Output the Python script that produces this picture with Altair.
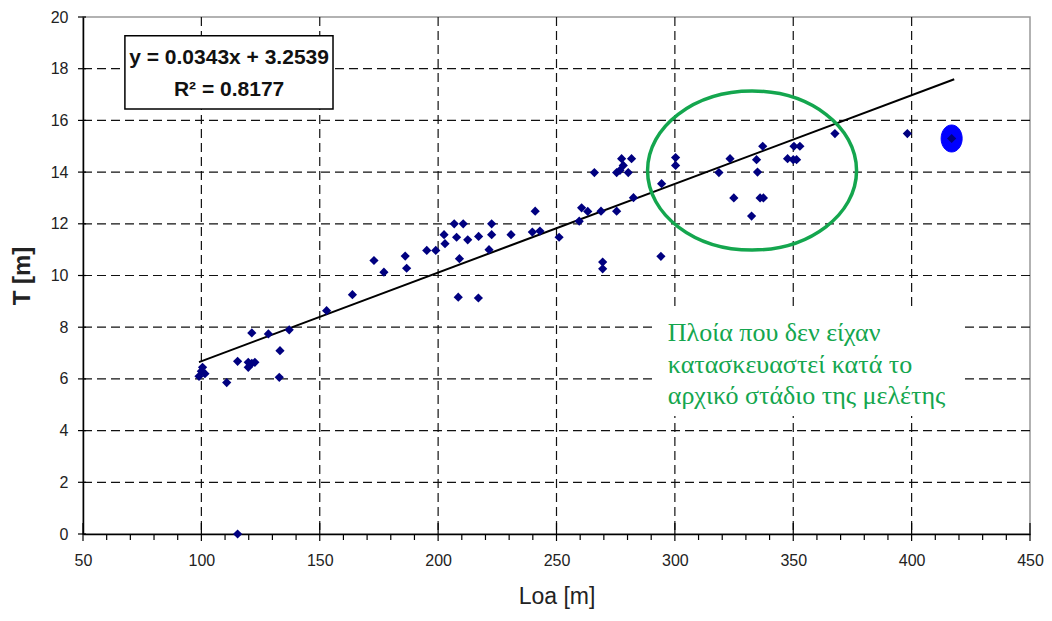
import altair as alt
import pandas as pd

# ---- data ----
loa = [99.0, 100.0, 100.5, 101.5, 110.7, 115.3, 115.3, 119.8, 121.3, 122.6, 119.8,
       121.3, 128.3, 137.1, 133.2, 132.9, 152.9, 163.8, 172.9, 177.1, 186.1, 186.7,
       195.2, 199.0, 202.9, 202.5, 206.8, 210.6, 207.8, 209.0, 208.5, 212.5, 217.1,
       217.0, 221.5, 222.6, 222.6, 230.8, 241.0, 239.8, 243.0, 251.1, 259.6, 260.6,
       263.2, 268.8, 269.5, 269.5, 266.0, 275.4, 276.8, 278.2, 277.5, 281.7, 280.3,
       275.4, 282.5, 294.4, 294.1, 300.3, 300.3, 318.6, 323.3, 324.9, 332.4, 334.5,
       334.9, 337.1, 336.0, 337.4, 347.6, 350.0, 351.4, 350.3, 352.8, 367.6, 398.2,
       416.9]
draft = [6.1, 6.3, 6.45, 6.2, 5.86, 0.0, 6.68, 6.64, 6.6, 6.64, 6.45,
         7.78, 7.74, 7.9, 7.09, 6.06, 8.64, 9.26, 10.58, 10.13, 10.75, 10.28,
         10.97, 10.97, 11.23, 11.58, 12.0, 12.0, 11.48, 10.65, 9.16, 11.38, 11.51,
         9.13, 11.0, 12.0, 11.58, 11.58, 12.49, 11.68, 11.72, 11.48, 12.1, 12.62,
         12.48, 12.49, 10.52, 10.26, 13.98, 13.98, 14.07, 14.26, 14.52, 14.52, 13.98,
         12.49, 13.01, 13.55, 10.74, 14.56, 14.26, 13.98, 14.52, 13.0, 12.3, 14.48,
         14.0, 15.0, 13.0, 13.0, 14.52, 14.48, 14.48, 15.0, 15.0, 15.49, 15.49,
         15.3]

highlight_loa = [416.9]
highlight_draft = [15.3]

fit_slope = 0.0343
fit_intercept = 3.2539
fit_loa = [99.0, 418.0]

x_ticks = [50, 100, 150, 200, 250, 300, 350, 400, 450]
y_ticks = [0, 2, 4, 6, 8, 10, 12, 14, 16, 18, 20]
grid_x = [100, 150, 200, 250, 300, 350, 400]
grid_y = [2, 4, 6, 8, 10, 12, 14, 16, 18]
minor_x = [60, 70, 80, 90, 110, 120, 130, 140, 160, 170, 180, 190, 210, 220, 230, 240,
           260, 270, 280, 290, 310, 320, 330, 340, 360, 370, 380, 390, 410, 420, 430, 440]

eq_lines = ["y = 0.0343x + 3.2539", "R² = 0.8177"]
eq_x = [111.7, 111.7]
eq_y = [18.41, 17.18]
box_x = [67.7]
box_x2 = [155.6]
box_y = [16.44]
box_y2 = [19.27]

zone_x = [332.6]
zone_y = [14.06]

note_lines = ["Πλοία που δεν είχαν", "κατασκευαστεί κατά το", "αρχικό στάδιο της μελέτης"]
note_x = [297.0, 297.0, 297.0]
note_y = [7.78, 6.54, 5.34]
note_box_x = [291.6]
note_box_x2 = [422.5]
note_box_y = [4.56]
note_box_y2 = [8.82]

# ---- layout ----
W, H = 947, 517
GREEN = "#14A64E"
NAVY = "#000080"
FONT = "Liberation Sans"


def ellipse_path(rx, ry):
    k = 0.5523
    return (f"M {rx} 0 C {rx} {k*ry} {k*rx} {ry} 0 {ry} "
            f"C {-k*rx} {ry} {-rx} {k*ry} {-rx} 0 "
            f"C {-rx} {-k*ry} {-k*rx} {-ry} 0 {-ry} "
            f"C {k*rx} {-ry} {rx} {-k*ry} {rx} 0 Z")


xs = alt.Scale(domain=[50, 450], nice=False, zero=False)
ys = alt.Scale(domain=[0, 20], nice=False, zero=False)

x_axis = alt.Axis(values=x_ticks, title="Loa [m]", grid=False, ticks=False, tickSize=0,
                  labelPadding=18, labelFontSize=16, labelFont=FONT, labelColor="#222",
                  domainColor="#000", domainWidth=1.5,
                  titleFont=FONT, titleFontSize=23, titleFontWeight="normal", titleColor="#222",
                  titleX=W / 2, titleY=62, titleAlign="center", titleBaseline="middle",
                  labelFlush=False)
y_axis = alt.Axis(values=y_ticks, title="T [m]", grid=False, ticks=False, tickSize=0,
                  labelPadding=15, labelFontSize=16, labelFont=FONT, labelColor="#222",
                  domainColor="#000", domainWidth=1.5,
                  titleFont=FONT, titleFontSize=24, titleFontWeight="bold", titleColor="#222",
                  titleX=-61, titleY=H / 2, titleAngle=270, titleAlign="center",
                  titleBaseline="middle", labelFlush=False)

gx_df = pd.DataFrame({"x": grid_x})
gy_df = pd.DataFrame({"y": grid_y})

vgrid = alt.Chart(gx_df).mark_rule(color="#111", strokeDash=[9, 5], strokeWidth=1.2).encode(
    x=alt.X("x:Q", scale=xs, axis=x_axis))
hgrid = alt.Chart(gy_df).mark_rule(color="#111", strokeDash=[9, 5], strokeWidth=1.2).encode(
    y=alt.Y("y:Q", scale=ys, axis=y_axis))

minor = alt.Chart(pd.DataFrame({"x": minor_x})).mark_rule(color="#000", strokeWidth=1.2).encode(
    x=alt.X("x:Q", scale=xs), y=alt.value(H), y2=alt.value(H + 6))
major_x = alt.Chart(pd.DataFrame({"x": x_ticks})).mark_rule(color="#000", strokeWidth=1.2).encode(
    x=alt.X("x:Q", scale=xs), y=alt.value(H - 11), y2=alt.value(H + 7))
major_y = alt.Chart(pd.DataFrame({"y": y_ticks})).mark_rule(color="#000", strokeWidth=1.2).encode(
    y=alt.Y("y:Q", scale=ys), x=alt.value(-5), x2=alt.value(3))

box = alt.Chart(pd.DataFrame({"x": box_x, "x2": box_x2, "y": box_y, "y2": box_y2})).mark_rect(
    fill="white", stroke="#000", strokeWidth=1.5).encode(
    x=alt.X("x:Q", scale=xs), x2="x2:Q", y=alt.Y("y:Q", scale=ys), y2="y2:Q")
eq = alt.Chart(pd.DataFrame({"x": eq_x, "y": eq_y, "t": eq_lines})).mark_text(
    font=FONT, fontSize=21, fontWeight="bold", color="#111", align="center", baseline="middle").encode(
    x=alt.X("x:Q", scale=xs), y=alt.Y("y:Q", scale=ys), text="t:N")

fit_df = pd.DataFrame({"x": fit_loa, "y": [fit_slope * v + fit_intercept for v in fit_loa]})
fit = alt.Chart(fit_df).mark_line(color="#000", strokeWidth=2).encode(
    x=alt.X("x:Q", scale=xs), y=alt.Y("y:Q", scale=ys))

hl = alt.Chart(pd.DataFrame({"x": highlight_loa, "y": highlight_draft})).mark_point(
    shape=ellipse_path(0.78, 1.0), filled=True, fill="#0000FF", stroke="#0000FF",
    strokeWidth=1, size=729, opacity=1).encode(
    x=alt.X("x:Q", scale=xs), y=alt.Y("y:Q", scale=ys))

pts = alt.Chart(pd.DataFrame({"x": loa, "y": draft})).mark_point(
    shape="diamond", filled=True, color=NAVY, size=85, opacity=1).encode(
    x=alt.X("x:Q", scale=xs), y=alt.Y("y:Q", scale=ys))

zone = alt.Chart(pd.DataFrame({"x": zone_x, "y": zone_y})).mark_point(
    shape=ellipse_path(1.0, 0.761), filled=False, stroke=GREEN, strokeWidth=3.5,
    size=209 * 209, opacity=1).encode(
    x=alt.X("x:Q", scale=xs), y=alt.Y("y:Q", scale=ys))

note_box = alt.Chart(pd.DataFrame({"x": note_box_x, "x2": note_box_x2,
                                   "y": note_box_y, "y2": note_box_y2})).mark_rect(
    fill="white", strokeWidth=0).encode(
    x=alt.X("x:Q", scale=xs), x2="x2:Q", y=alt.Y("y:Q", scale=ys), y2="y2:Q")

note = alt.Chart(pd.DataFrame({"x": note_x, "y": note_y, "t": note_lines})).mark_text(
    font="Liberation Serif", fontSize=26, color=GREEN, align="left", baseline="middle").encode(
    x=alt.X("x:Q", scale=xs), y=alt.Y("y:Q", scale=ys), text="t:N")

chart = alt.layer(vgrid, hgrid, minor, major_x, major_y, box, eq, fit, hl, pts, zone,
                  note_box, note).properties(
    width=W, height=H,
    autosize=alt.AutoSizeParams(type="none"),
    padding={"left": 75, "top": 9, "right": 14, "bottom": 79},
    background="white",
).configure_view(stroke="#999", strokeWidth=1.5)

chart.save("out.html", embed_options={"renderer": "svg", "actions": False})
